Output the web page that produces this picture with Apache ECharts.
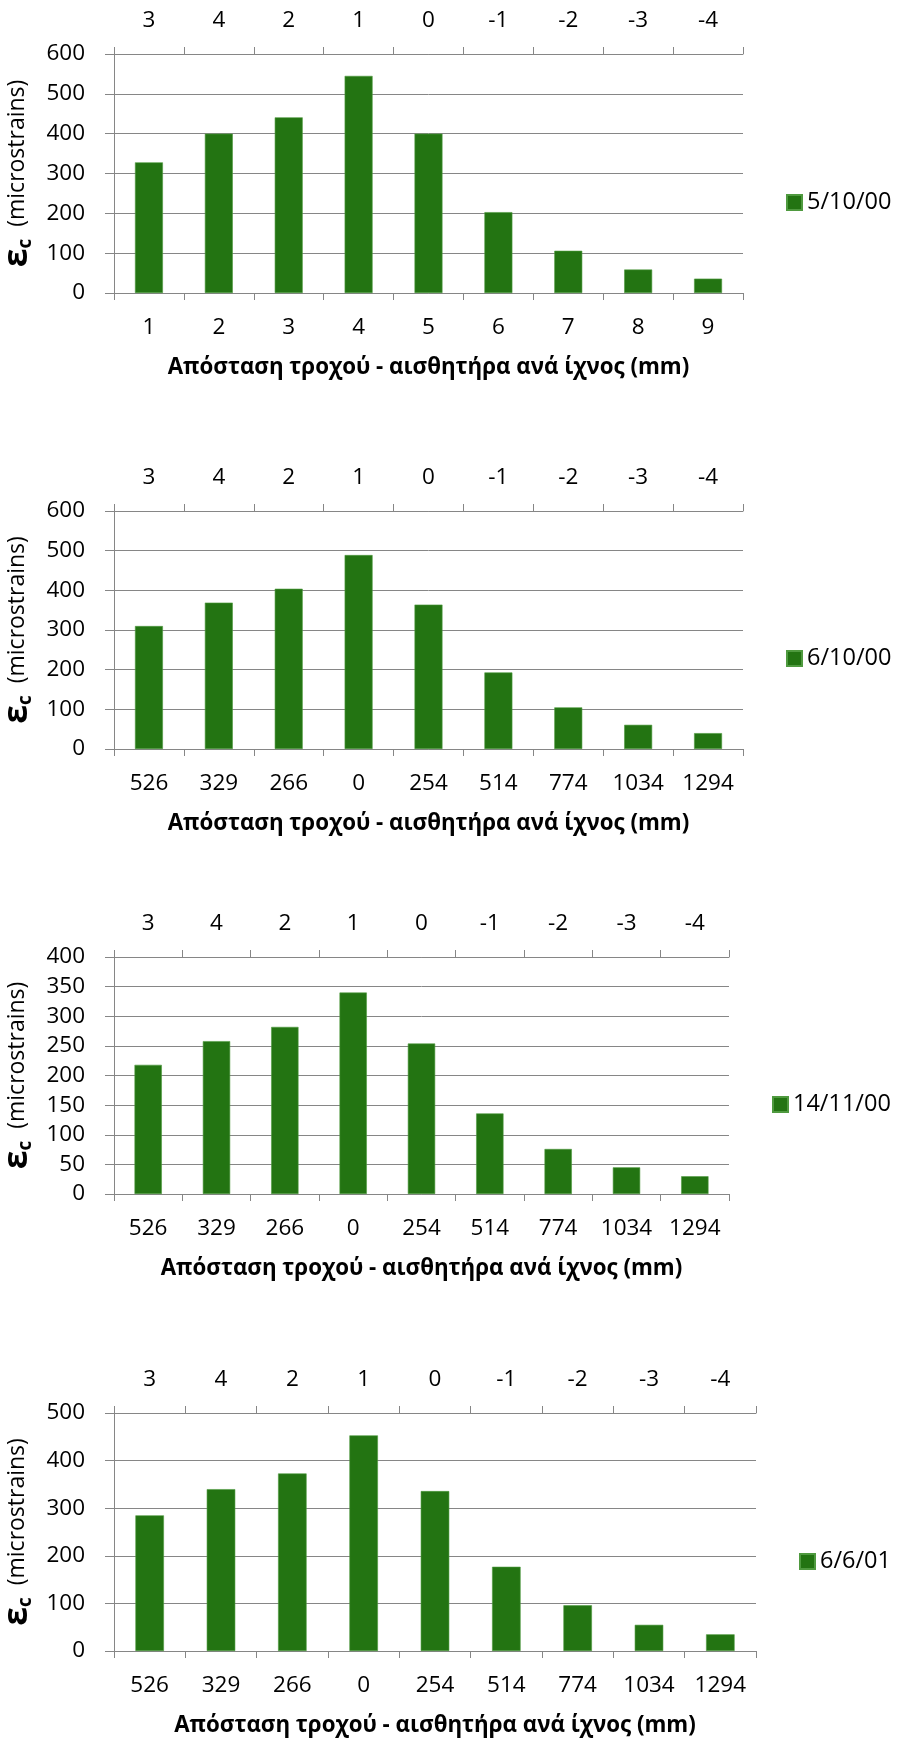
<!DOCTYPE html>
<html>
<head>
<meta charset="utf-8">
<script src="https://cdn.jsdelivr.net/npm/echarts@6/dist/echarts.min.js"></script>
<style>
html,body{margin:0;padding:0;background:#fff;}
#c{width:898px;height:1742px;}
</style>
</head>
<body>
<div id="c"></div>
<script>
// ---- data ----
const topLabels = ['3','4','2','1','0','-1','-2','-3','-4'];
const sensorLabels = ['1','2','3','4','5','6','7','8','9'];
const distanceLabels = ['526','329','266','0','254','514','774','1034','1294'];
const seriesNames = ['5/10/00','6/10/00','14/11/00','6/6/01'];
const values_5_10_00 = [328,400,441,545,400,203,106,59,36];
const values_6_10_00 = [310,369,404,489,364,193,105,61,40];
const values_14_11_00 = [218,258,282,340,254,136,76,45,30];
const values_6_6_01 = [285,340,373,453,336,177,96,55,35];
const yMax = [600,600,400,500];
const yInterval = [100,100,50,100];
const xAxisTitle = 'Απόσταση τροχού - αισθητήρα ανά ίχνος (mm)';

// ---- layout ----
const FONT = 'Open Sans';
const GRAY = '#868686';
const GREEN = '#237412';
const panels = [
  {top:54,  height:239, right:155, legendLeft:786, legendTop:190.5, bottom: sensorLabels, data: values_5_10_00},
  {top:511, height:238, right:155, legendLeft:786, legendTop:646.5, bottom: distanceLabels, data: values_6_10_00},
  {top:957, height:237, right:169, legendLeft:772, legendTop:1092.5,bottom: distanceLabels, data: values_14_11_00},
  {top:1413,height:238, right:142, legendLeft:799, legendTop:1549.5,bottom: distanceLabels, data: values_6_6_01}
];

const grid=[], xAxis=[], yAxis=[], series=[], legend=[];
panels.forEach((p,i)=>{
  grid.push({left:114, right:p.right, top:p.top, height:p.height, containLabel:false, outerBoundsMode:'none'});
  xAxis.push({
    type:'category', gridIndex:i, position:'bottom', data:p.bottom,
    axisLine:{show:true, lineStyle:{color:GRAY, width:1}},
    axisTick:{show:true, length:7, lineStyle:{color:GRAY}},
    axisLabel:{color:'#000', fontFamily:FONT, fontSize:22.5, margin:23, interval:0},
    name:xAxisTitle, nameLocation:'middle', nameGap:64,
    nameTextStyle:{color:'#000', fontFamily:FONT, fontSize:22.3, fontWeight:'bold'},
    splitLine:{show:false}
  });
  xAxis.push({
    type:'category', gridIndex:i, position:'top', data:topLabels,
    axisLine:{show:true, lineStyle:{color:GRAY, width:1}},
    axisTick:{show:true, length:7, lineStyle:{color:GRAY}},
    axisLabel:{color:'#000', fontFamily:FONT, fontSize:22.5, margin:22, interval:0},
    splitLine:{show:false}
  });
  yAxis.push({
    type:'value', gridIndex:i, min:0, max:yMax[i], interval:yInterval[i],
    axisLine:{show:true, lineStyle:{color:GRAY, width:1}},
    axisTick:{show:true, length:9, lineStyle:{color:GRAY}},
    axisLabel:{color:'#000', fontFamily:FONT, fontSize:22.5, margin:29},
    splitLine:{show:true, lineStyle:{color:GRAY, width:1}},
    name:'{eps|ε}{sub|c}{txt|  (microstrains)}',
    nameLocation:'middle', nameRotate:90, nameGap:74,
    nameTextStyle:{
      color:'#000', fontFamily:FONT,
      rich:{
        eps:{fontFamily:FONT, fontSize:34, fontWeight:'bold', color:'#000', lineHeight:36, verticalAlign:'middle'},
        sub:{fontFamily:FONT, fontSize:19, fontWeight:'bold', color:'#000', lineHeight:16, verticalAlign:'bottom'},
        txt:{fontFamily:FONT, fontSize:23, color:'#000', lineHeight:36, verticalAlign:'middle'}
      }
    }
  });
  series.push({
    type:'bar', name:seriesNames[i], xAxisIndex:2*i, yAxisIndex:i,
    data:p.data, barWidth:'40%',
    itemStyle:{color:GREEN, borderColor:'#4f9a3f', borderWidth:0.6},
    animation:false
  });
  legend.push({
    data:[{name:seriesNames[i], icon:'rect'}],
    left:p.legendLeft, top:p.legendTop, padding:0,
    itemWidth:15, itemHeight:15, itemGap:5,
    textStyle:{color:'#000', fontFamily:FONT, fontSize:23.5}
  });
});

const chart = echarts.init(document.getElementById('c'), null, {renderer:'canvas'});
chart.setOption({animation:false, backgroundColor:'#fff', grid, xAxis, yAxis, series, legend});
</script>
</body>
</html>
